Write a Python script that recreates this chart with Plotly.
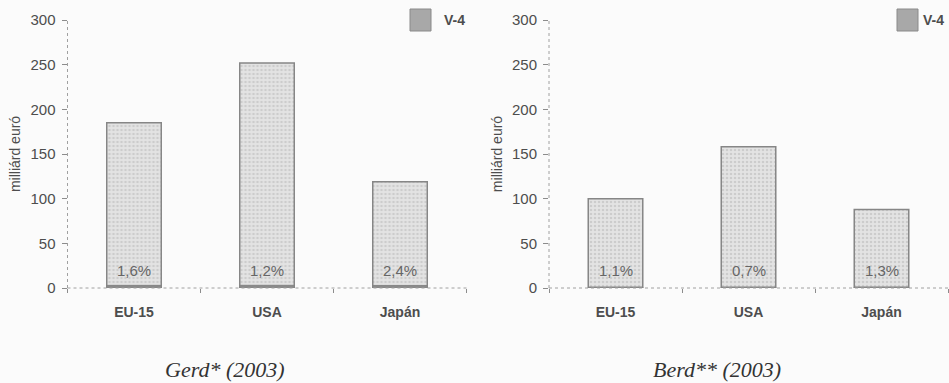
import plotly.graph_objects as go
from plotly.subplots import make_subplots

# R&D spending in billion euro, with the V-4 share as a percentage of each total
categories = ["EU-15", "USA", "Japán"]
gerd_total = [185, 252, 119]
gerd_v4_pct = [1.6, 1.2, 2.4]
berd_total = [100, 158, 88]
berd_v4_pct = [1.1, 0.7, 1.3]
y_ticks = [0, 50, 100, 150, 200, 250, 300]
captions = ["Gerd* (2003)", "Berd** (2003)"]
legend_label = "V-4"
axis_title = "milliárd euró"

W, H = 949, 383
SANS = "Liberation Sans, Arial, sans-serif"
SERIF = "Liberation Serif, Times New Roman, serif"
TXT = "#4d4d4d"
AXIS = "#8c8c8c"

panels = [(gerd_total, gerd_v4_pct), (berd_total, berd_v4_pct)]
x_px = [(67.5, 466.5), (549, 948)]
y_px = (20, 288)  # top (300) and bottom (0) of the plot area, px from top
swatch = [(410, 442), (897, 921)]  # legend swatch left edge, label left edge
caption_x = [225, 717]

fig = make_subplots(rows=1, cols=2)

for i, (totals, pcts) in enumerate(panels):
    col = i + 1
    v4 = [t * p / 100 for t, p in zip(totals, pcts)]
    fig.add_trace(go.Bar(
        x=categories, y=totals, width=0.41,
        marker=dict(color="#e3e3e3",
                    line=dict(color="#868686", width=1.5),
                    pattern=dict(shape=".", fgcolor="#b5b5b5", size=4, solidity=0.35)),
        showlegend=False, hoverinfo="y",
    ), row=1, col=col)
    fig.add_trace(go.Bar(
        x=categories, y=v4, width=0.41,
        marker=dict(color="#8a8a8a", line=dict(color="#858585", width=1)),
        name=legend_label, showlegend=False,
    ), row=1, col=col)
    xa = "x" if i == 0 else "x2"
    ya = "y" if i == 0 else "y2"
    for c, p in zip(categories, pcts):
        fig.add_annotation(x=c, y=20, xref=xa, yref=ya, showarrow=False,
                           text=f"{p:.1f}%".replace(".", ","),
                           font=dict(family=SANS, size=15, color="#666666"))
    # dotted axis lines
    fig.add_shape(type="line", xref=f"{xa} domain", yref=f"{ya} domain",
                  x0=0, x1=0, y0=0, y1=1, line=dict(color="#a0a0a0", width=1, dash="dot"))
    fig.add_shape(type="line", xref=f"{xa} domain", yref=f"{ya} domain",
                  x0=0, x1=1, y0=0, y1=0, line=dict(color="#a0a0a0", width=1, dash="dot"))

    # legend swatch and label
    sx, tx = swatch[i]
    fig.add_shape(type="rect", xref="paper", yref="paper",
                  x0=sx / W, x1=(sx + 21) / W, y0=1 - 31 / H, y1=1 - 9 / H,
                  fillcolor="#a8a8a8", line=dict(color="#8a8a8a", width=1))
    fig.add_annotation(xref="paper", yref="paper", x=tx / W, y=1 - 20 / H,
                       xanchor="left", yanchor="middle", showarrow=False,
                       text=f"<b>{legend_label}</b>",
                       font=dict(family=SANS, size=14, color=TXT))
    # caption under each panel
    fig.add_annotation(xref="paper", yref="paper", x=caption_x[i] / W, y=1 - 369 / H,
                       xanchor="center", yanchor="middle", showarrow=False,
                       text=f"<i>{captions[i]}</i>",
                       font=dict(family=SERIF, size=22, color="#333333"))

    fig.update_xaxes(domain=[x_px[i][0] / W, x_px[i][1] / W], type="category",
                     automargin=False,
                     showline=False, showgrid=False, zeroline=False,
                     ticks="outside", tickson="boundaries", ticklen=4, tickcolor=AXIS,
                     tickfont=dict(family=SANS, size=14, color=TXT),
                     ticklabelstandoff=14,
                     row=1, col=col)
    fig.update_yaxes(domain=[1 - y_px[1] / H, 1 - y_px[0] / H], range=[0, 300],
                     automargin=False,
                     tickvals=y_ticks, showline=False, showgrid=False, zeroline=False,
                     ticks="outside", ticklen=5, tickcolor=AXIS,
                     tickfont=dict(family=SANS, size=15, color=TXT),
                     ticklabelstandoff=3,
                     title=dict(text=axis_title, font=dict(family=SANS, size=14, color=TXT),
                                standoff=6),
                     row=1, col=col)

fig.update_xaxes(tickvals=categories,
                 ticktext=[f"<b>{c}</b>" for c in categories])
fig.update_layout(
    width=W, height=H, barmode="overlay",
    margin=dict(l=0, r=0, t=0, b=0),
    paper_bgcolor="#fbfbfb", plot_bgcolor="rgba(0,0,0,0)",
    showlegend=False,
)
fig.write_html("out.html")
